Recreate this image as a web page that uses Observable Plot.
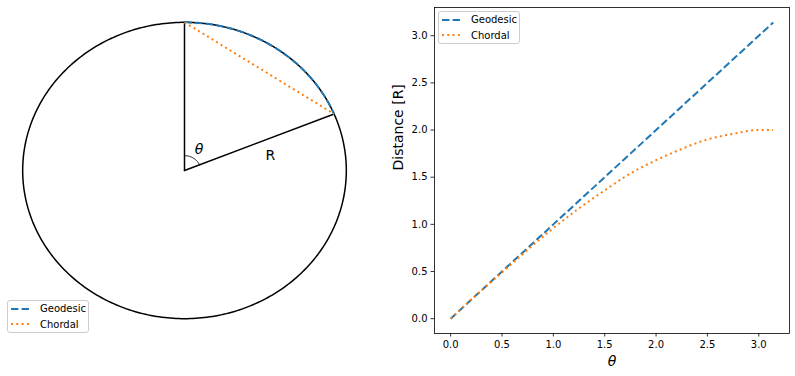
<!DOCTYPE html>
<html>
<head>
<meta charset="utf-8">
<script src="https://cdn.jsdelivr.net/npm/d3@7"></script>
<script src="https://cdn.jsdelivr.net/npm/@observablehq/plot@0.6"></script>
<style>
  html, body { margin: 0; padding: 0; background: #fff; }
  #fig { position: relative; width: 795px; height: 376px; font-family: "DejaVu Sans", sans-serif; overflow: hidden; }
  .legend {
    position: absolute; box-sizing: border-box;
    border: 1px solid #cccccc; border-radius: 3px; background: rgba(255,255,255,0.8);
    font-size: 10px; color: #000; padding: 0 4px 0 3px; width: 82px; height: 33px;
  }
  .legend .row { display: flex; align-items: center; height: 15.5px; }
  .legend svg { margin-right: 9px; flex: none; }
</style>
</head>
<body>
<div id="fig"></div>
<script>
// Distance along the circle (geodesic) vs straight chord, as a function of θ (in radians, R = 1)
const thetaValues    = [0, 0.25, 0.5, 0.75, 1.0, 1.25, 1.5, 1.75, 2.0, 2.25, 2.5, 2.75, 3.0, 3.14];
const geodesicValues = [0, 0.25, 0.5, 0.75, 1.0, 1.25, 1.5, 1.75, 2.0, 2.25, 2.5, 2.75, 3.0, 3.14];
const chordalValues  = [0, 0.25, 0.49, 0.73, 0.96, 1.17, 1.36, 1.54, 1.68, 1.80, 1.90, 1.96, 2.00, 2.00];

const seriesNames = ["Geodesic", "Chordal"];
const seriesColors = ["#1f77b4", "#ff7f0e"];
const seriesDash = ["7.4,3.2", "2,3.3"];

// Angle shown in the diagram (measured from the vertical radius)
const diagramAngle = 1.18;

const yTicks = [0, 0.5, 1.0, 1.5, 2.0, 2.5, 3.0];
const xTicks = [0, 0.5, 1.0, 1.5, 2.0, 2.5, 3.0];

const fig = document.getElementById("fig");
const fmt = d3.format(".1f");
const baseStyle = { fontFamily: "DejaVu Sans", fontSize: "10px", color: "#000", background: "transparent", overflow: "visible" };

function place(svg, leftPx) {
  svg.style.position = "absolute";
  svg.style.top = "0px";
  svg.style.left = leftPx + "px";
  fig.appendChild(svg);
}

// ---- Left panel: unit circle with radius, arc and chord ----
const circlePts = d3.range(0, 361, 1).map(d => {
  const a = d * Math.PI / 180;
  return { x: Math.cos(a), y: Math.sin(a) };
});
const arcPts = d3.range(0, 101).map(i => {
  const a = diagramAngle * i / 100;
  return { x: Math.sin(a), y: Math.cos(a) };
});
const smallArcPts = arcPts.map(p => ({ x: 0.1 * p.x, y: 0.1 * p.y }));
const tip = { x: Math.sin(diagramAngle), y: Math.cos(diagramAngle) };

const left = Plot.plot({
  width: 380, height: 376,
  marginLeft: 6, marginRight: 18, marginTop: 7, marginBottom: 43,
  x: { domain: [-1.1, 1.1], axis: null },
  y: { domain: [-1.1, 1.1], axis: null },
  style: baseStyle,
  marks: [
    Plot.line(circlePts, { x: "x", y: "y", stroke: "black", strokeWidth: 1.5 }),
    Plot.line([{ x: 0, y: 0 }, { x: 0, y: 1 }], { x: "x", y: "y", stroke: "black", strokeWidth: 1.5 }),
    Plot.line([{ x: 0, y: 0 }, tip], { x: "x", y: "y", stroke: "black", strokeWidth: 1.5 }),
    Plot.line(smallArcPts, { x: "x", y: "y", stroke: "black", strokeWidth: 1 }),
    Plot.line(arcPts, { x: "x", y: "y", stroke: seriesColors[0], strokeWidth: 2, strokeDasharray: seriesDash[0], strokeLinecap: "butt" }),
    Plot.line([{ x: 0, y: 1 }, tip], { x: "x", y: "y", stroke: seriesColors[1], strokeWidth: 2, strokeDasharray: seriesDash[1], strokeLinecap: "butt" }),
    Plot.text([{ x: 0.09, y: 0.14, t: "θ" }], { x: "x", y: "y", text: "t", fontSize: 14, fontStyle: "italic", fill: "black" }),
    Plot.text([{ x: 0.53, y: 0.10, t: "R" }], { x: "x", y: "y", text: "t", fontSize: 14, fill: "black" })
  ]
});
place(left, 0);

// ---- Right panel: distance vs θ ----
const rows = thetaValues.map((t, i) => [
  { theta: t, dist: geodesicValues[i], series: seriesNames[0] },
  { theta: t, dist: chordalValues[i], series: seriesNames[1] }
]).flat();

const right = Plot.plot({
  width: 415, height: 376,
  marginLeft: 54, marginRight: 6, marginTop: 7, marginBottom: 43,
  x: { domain: [-0.157, 3.299] },
  y: { domain: [-0.157, 3.299] },
  style: baseStyle,
  marks: [
    Plot.line(rows.filter(d => d.series === seriesNames[0]), {
      x: "theta", y: "dist", stroke: seriesColors[0], strokeWidth: 2,
      strokeDasharray: seriesDash[0], strokeLinecap: "butt"
    }),
    Plot.line(rows.filter(d => d.series === seriesNames[1]), {
      x: "theta", y: "dist", stroke: seriesColors[1], strokeWidth: 2,
      strokeDasharray: seriesDash[1], strokeLinecap: "butt", curve: "monotone-x"
    }),
    Plot.frame({ stroke: "black", strokeWidth: 0.8 }),
    Plot.axisX({ ticks: xTicks, tickFormat: fmt, tickSize: 3.5, tickPadding: 3.5, strokeWidth: 0.8, fontSize: 10, label: null }),
    Plot.axisY({ ticks: yTicks, tickFormat: fmt, tickSize: 3.5, tickPadding: 3.5, strokeWidth: 0.8, fontSize: 10, label: null }),
    Plot.text(["θ"], { frameAnchor: "bottom", lineAnchor: "middle", dy: 28, fontSize: 14, fontStyle: "italic", fill: "black" }),
    Plot.text(["Distance [R]"], { frameAnchor: "left", lineAnchor: "middle", dx: -36, rotate: -90, fontSize: 14, fill: "black" })
  ]
});
place(right, 380);

// ---- Legends ----
function addLegend(leftPx, topPx) {
  const box = document.createElement("div");
  box.className = "legend";
  box.style.left = leftPx + "px";
  box.style.top = topPx + "px";
  seriesNames.forEach((name, i) => {
    const row = document.createElement("div");
    row.className = "row";
    row.innerHTML =
      `<svg width="20" height="6"><line x1="0" y1="3" x2="20" y2="3" stroke="${seriesColors[i]}" stroke-width="2" stroke-dasharray="${seriesDash[i]}"/></svg><span>${name}</span>`;
    box.appendChild(row);
  });
  fig.appendChild(box);
}
addLegend(7, 300);
addLegend(438, 11);
</script>
</body>
</html>
